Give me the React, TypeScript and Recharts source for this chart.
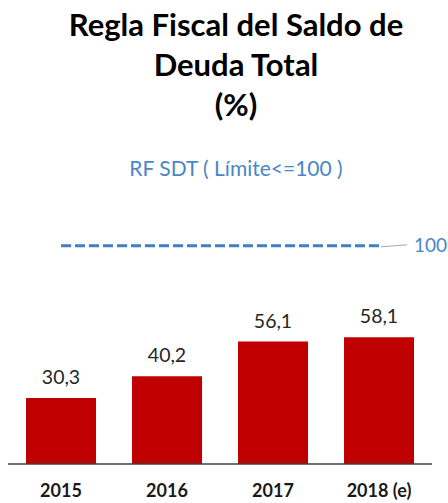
import React from "react";
import { BarChart, Bar, XAxis, YAxis, ReferenceLine, LabelList } from "recharts";

const years = ["2015", "2016", "2017", "2018 (e)"];
const deudaTotal = [30.3, 40.2, 56.1, 58.1];
const limite = 100;

const data = years.map((year, i) => ({ year, value: deudaTotal[i] }));

const FONT = "Lato, 'Open Sans', sans-serif";

const fmt = (v: any) => String(v).replace(".", ",");

// leader line + "100" to the right of the dashed limit line
const LimitLabel = (props: any) => {
  const vb = props.viewBox || {};
  const x = (vb.x ?? 0) + (vb.width ?? 0);
  const y = vb.y ?? 0;
  return (
    <g>
      <line x1={x + 2} y1={y + 1} x2={x + 28} y2={y - 1} stroke="#a6a6a6" strokeWidth={1} />
      <text
        x={x + 35}
        y={y}
        dy="0.35em"
        fill="#4a86c8"
        fontSize={19}
        fontFamily={FONT}
      >
        {limite}
      </text>
    </g>
  );
};

export default function App() {
  return (
    <div
      style={{
        position: "absolute",
        left: 0,
        top: 0,
        width: 448,
        height: 503,
        background: "#fff",
        fontFamily: FONT,
      }}
    >
      {/* Title */}
      <div
        style={{
          position: "absolute",
          top: 4,
          left: 16,
          width: 440,
          textAlign: "center",
          fontWeight: 700,
          fontSize: 31,
          lineHeight: "40px",
          color: "#000",
        }}
      >
        Regla Fiscal del Saldo de
        <br />
        Deuda Total
        <br />
        (%)
      </div>

      {/* Subtitle */}
      <div
        style={{
          position: "absolute",
          top: 155,
          left: 16,
          width: 440,
          textAlign: "center",
          fontSize: 21,
          lineHeight: "26px",
          color: "#4a86c8",
        }}
      >
        RF SDT ( Límite&lt;=100 )
      </div>

      <div style={{ position: "absolute", left: 0, top: 0 }}>
        <BarChart
          width={448}
          height={503}
          data={data}
          margin={{ top: 224, right: 16, bottom: 9, left: 8 }}
          barCategoryGap="17%"
        >
          <XAxis
            dataKey="year"
            height={30}
            axisLine={{ stroke: "#404040", strokeWidth: 1.5 }}
            tickLine={false}
            tickMargin={14}
            tick={{ fill: "#1a1a1a", fontSize: 18, fontWeight: 700, fontFamily: FONT }}
            interval={0}
          />
          <YAxis hide domain={[0, 110]} />
          <ReferenceLine
            segment={[
              { x: years[0], y: limite },
              { x: years[years.length - 1], y: limite },
            ]}
            stroke="#3f7fc4"
            strokeWidth={3}
            strokeDasharray="10 4"
            ifOverflow="visible"
            label={<LimitLabel />}
          />
          <Bar dataKey="value" fill="#c00000" isAnimationActive={false}>
            <LabelList
              dataKey="value"
              position="top"
              offset={14}
              formatter={fmt}
              fill="#262626"
              fontSize={19.5}
              fontFamily={FONT}
            />
          </Bar>
        </BarChart>
      </div>
    </div>
  );
}
